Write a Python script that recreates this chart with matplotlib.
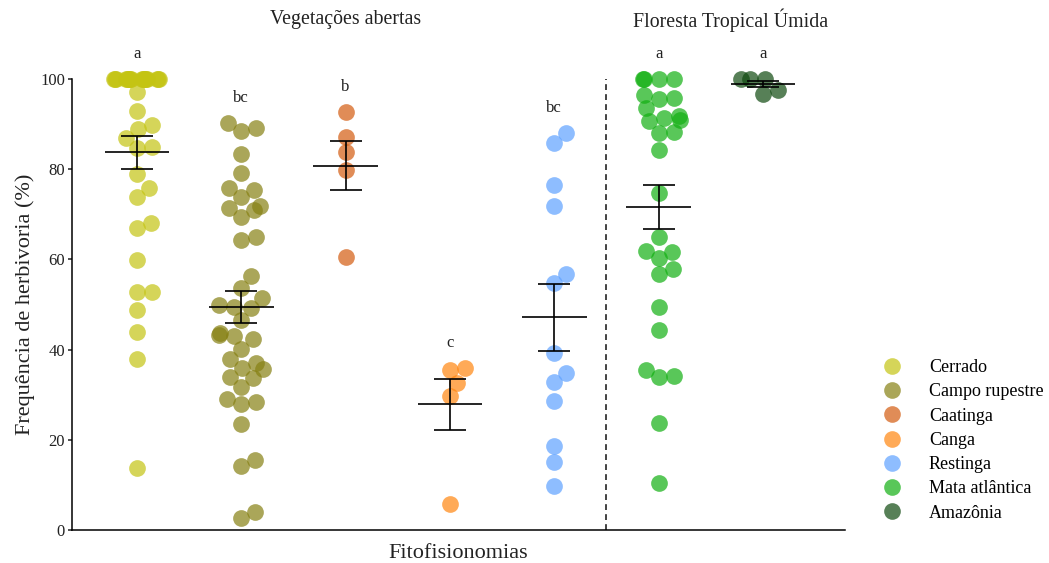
import numpy as np
import matplotlib
matplotlib.use('Agg')
import matplotlib.pyplot as plt
from matplotlib.lines import Line2D

plt.rcParams['font.family'] = ['Liberation Serif', 'DejaVu Serif']

# ==== DATA ====
grupos = ['Cerrado', 'Campo rupestre', 'Caatinga', 'Canga', 'Restinga',
          'Mata atlântica', 'Amazônia']
cores = ['#C4C413', '#868013', '#D35B10', '#FF8610', '#5FA2FF', '#13B013', '#104A10']
letras = ['a', 'bc', 'b', 'c', 'bc', 'a', 'a']

cerrado = [100] * 18 + [97.1, 92.9, 89.8, 88.9, 86.9, 84.9, 84.7, 79.0, 75.8, 73.9,
                        68.0, 67.0, 59.9, 52.8, 52.8, 48.8, 43.9, 37.9, 13.7]
campo = [90.2, 89.1, 88.5, 83.3, 79.1, 75.4, 75.8, 73.8, 71.8, 71.4, 71.0, 69.4,
         64.3, 65.0, 56.3, 53.7, 51.4, 49.5, 49.9, 49.2, 46.6, 43.2, 43.7, 43.0,
         42.3, 40.1, 37.0, 37.9, 35.9, 35.7, 33.7, 33.9, 31.7, 27.9, 28.4, 29.0,
         23.5, 15.5, 14.2, 4.0, 2.7]
caatinga = [92.7, 87.2, 83.8, 79.8, 60.5]
canga = [35.9, 35.5, 32.6, 29.7, 5.8]
restinga = [85.8, 88.0, 76.5, 71.8, 56.8, 54.8, 39.2, 34.8, 32.8, 28.6, 18.6, 15.1, 9.8]
mata = [100] * 4 + [96.4, 95.7, 95.5, 93.5, 90.7, 91.4, 91.8, 90.9, 88.3, 88.1,
                    84.3, 74.7, 65.0, 61.9, 61.6, 60.3, 57.9, 56.8, 49.4, 44.3,
                    35.5, 34.1, 33.9, 23.7, 10.4]
amazonia = [100, 100, 100, 97.5, 96.7]

dados = [cerrado, campo, caatinga, canga, restinga, mata, amazonia]


def swarm(ypx, d, lim):
    # simple beeswarm in pixel units, overflow wrapped inside +-lim
    order = np.argsort(ypx, kind='stable')
    placed = []
    out = np.zeros(len(ypx))
    for i in order:
        y = ypx[i]
        near = [(py, px) for py, px in placed if abs(py - y) < d]
        cands = [0.0]
        for py, px in near:
            dx = np.sqrt(d * d - (py - y) ** 2)
            cands += [px + dx, px - dx]
        cands.sort(key=abs)
        best = cands[-1]
        for c in cands:
            if all((c - px) ** 2 + (y - py) ** 2 >= d * d - 1e-6 for py, px in near):
                best = c
                break
        placed.append((y, best))
        out[i] = best
    big = np.abs(out) > lim
    out[big] = ((out[big] + lim) % (2 * lim)) - lim
    return out


# ==== PLOT ====
fig = plt.figure(figsize=(10.49, 5.63), dpi=100)
ax = fig.add_axes([72 / 1049, 33 / 563, 773 / 1049, 451 / 563])
ax.set_xlim(-0.623, 6.786)
ax.set_ylim(0, 100)

p0 = ax.transData.transform((0, 0))
p1 = ax.transData.transform((1, 1))
px_x = p1[0] - p0[0]
px_y = p1[1] - p0[1]

for k, vals in enumerate(dados):
    vals = np.array(vals, dtype=float)
    off = swarm(vals * px_y, 15.0, 23.0) / px_x
    ax.scatter(k + off, vals, s=145, color=cores[k], alpha=0.7, linewidths=0,
               clip_on=False, zorder=2)
    m = vals.mean()
    se = vals.std(ddof=1) / np.sqrt(len(vals))
    ax.errorbar(k, m, yerr=se, fmt='none', ecolor='black', elinewidth=1.2,
                capsize=11.5, capthick=1.2, zorder=3)
    ax.hlines(m, k - 0.31, k + 0.31, color='black', lw=1.2, zorder=3)
    ax.text(k, vals.max() + 5.6, letras[k], ha='center', va='center', fontsize=12,
            color='#222222')

ax.axvline(4.5, ymin=0, ymax=1, color='#222222', ls=(0, (3.5, 2.5)), lw=1.2)

ax.text(2, 113.1, 'Vegetações abertas', ha='center', va='center', fontsize=14.3,
        color='#222222')
ax.text(5.69, 113.1, 'Floresta Tropical Úmida', ha='center', va='center', fontsize=14.3,
        color='#222222')

ax.spines['top'].set_visible(False)
ax.spines['right'].set_visible(False)
ax.spines['left'].set_linewidth(1.1)
ax.spines['bottom'].set_linewidth(1.1)
ax.set_xticks([])
ax.set_yticks([0, 20, 40, 60, 80, 100])
ax.tick_params(axis='y', length=3, width=1.1, labelsize=12, pad=2, colors='#222222')
ax.set_xlabel('Fitofisionomias', fontsize=16, color='#222222')
ax.xaxis.set_label_coords(0.5, -0.03)
ax.set_ylabel('Frequência de herbivoria (%)', fontsize=16, color='#222222')
ax.yaxis.set_label_coords(-0.048, 0.5)

handles = [Line2D([0], [0], ls='none', marker='o', markersize=12, color=c, alpha=0.7,
                  markeredgewidth=0, label=g) for g, c in zip(grupos, cores)]
fig.legend(handles=handles, loc='upper left', bbox_to_anchor=(871 / 1049, 1 - 352 / 563),
           frameon=False, fontsize=13, labelspacing=0.4, handletextpad=1.3,
           handlelength=1.5, borderaxespad=0)

fig.savefig('out.png', dpi=100)
